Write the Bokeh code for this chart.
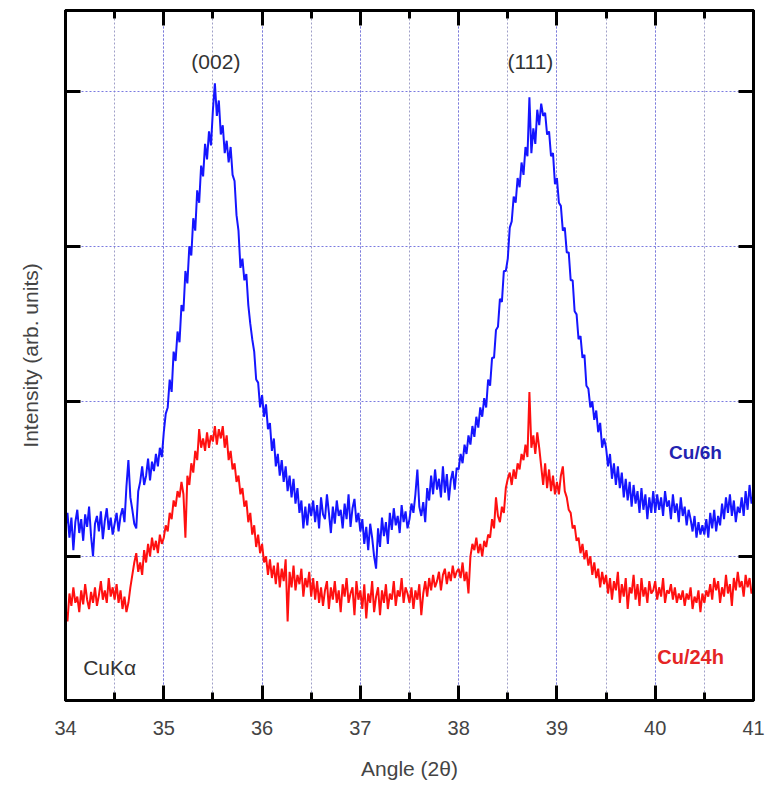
import numpy as np
from bokeh.plotting import figure
from bokeh.models import Range1d, LinearAxis, SingleIntervalTicker, FixedTicker
from bokeh.core.properties import value
from bokeh.embed import file_html
from bokeh.resources import INLINE

# 2-theta grid: 34.00 .. 41.00 step 0.02 (rows of 0.5 deg)
angle_start = 34.0
angle_step = 0.02

cu6h = [
    118, 128, 112, 125, 104, 122, 130, 115, 124, 110, 127, 119, 132, 113, 100, 121, 126, 116, 129, 111, 123, 131, 117, 125, 114,
    121, 128, 116, 126, 131, 122, 145, 162, 138, 130, 121, 118, 142, 148, 158, 146, 152, 163, 149, 161, 155, 166, 158, 170, 164,
    180, 192, 196, 214, 206, 232, 226, 245, 238, 262, 258, 284, 276, 300, 294, 318, 310, 336, 328, 352, 345, 366, 356, 374, 365,
    388, 405, 384, 394, 372, 378, 360, 368, 354, 364, 346, 342, 320, 310, 286, 292, 278, 282, 262, 250, 240, 232, 214, 212, 196,
    204, 190, 198, 182, 186, 168, 176, 158, 166, 152, 162, 148, 158, 142, 152, 138, 150, 134, 144, 128, 136, 118, 132, 120, 134,
    126, 136, 122, 133, 118, 138, 127, 124, 140, 128, 115, 132, 121, 136, 126, 130, 118, 134, 124, 140, 119, 131, 137, 122, 128,
    116, 124, 108, 119, 104, 121, 112, 100, 92, 118, 106, 125, 113, 122, 108, 128, 117, 131, 120, 126, 115, 133, 122, 129, 118,
    124, 134, 128, 140, 156, 132, 126, 135, 122, 144, 136, 152, 140, 156, 143, 150, 138, 158, 141, 153, 136, 149, 155, 143, 157,
    156, 166, 160, 172, 166, 178, 172, 184, 177, 190, 183, 196, 190, 202, 196, 214, 210, 228, 228, 246, 248, 266, 264, 284, 284,
    292, 312, 316, 332, 328, 344, 338, 354, 346, 364, 358, 396, 360, 376, 366, 388, 378, 392, 384, 386, 372, 374, 358, 360, 340,
    344, 328, 326, 310, 312, 296, 296, 278, 278, 258, 256, 240, 242, 228, 230, 210, 208, 196, 200, 188, 194, 180, 186, 170, 176,
    170, 158, 166, 150, 160, 146, 158, 144, 154, 138, 150, 136, 148, 132, 146, 134, 142, 128, 144, 130, 140, 124, 138, 128, 142,
    128, 140, 130, 138, 126, 142, 132, 136, 124, 140, 128, 134, 122, 138, 126, 132, 120, 130, 124, 116, 126, 112, 122, 114, 120,
    114, 124, 112, 128, 118, 130, 116, 126, 120, 134, 124, 138, 128, 140, 126, 136, 122, 132, 128, 138, 126, 142, 130, 146, 134,
    140,
]

cu24h = [
    66, 58, 76, 68, 80, 70, 74, 64, 78, 69, 82, 72, 66, 77, 70, 80, 68, 75, 84, 72, 78, 70, 86, 74, 80,
    72, 82, 70, 78, 66, 74, 64, 70, 80, 88, 96, 102, 90, 96, 88, 104, 96, 108, 100, 112, 104, 110, 102, 114, 108,
    112, 120, 116, 128, 124, 136, 132, 142, 138, 148, 140, 112, 152, 146, 160, 154, 168, 162, 182, 170, 176, 168, 180, 170, 178,
    174, 184, 172, 182, 176, 184, 170, 178, 162, 168, 156, 160, 148, 152, 140, 144, 132, 136, 122, 128, 114, 120, 106, 114, 102,
    108, 96, 100, 88, 98, 86, 94, 82, 96, 80, 92, 84, 98, 58, 90, 80, 94, 78, 88, 82, 92, 74, 86, 80, 90,
    74, 86, 72, 84, 70, 80, 68, 78, 84, 66, 80, 72, 84, 70, 78, 64, 82, 74, 86, 70, 76, 80, 62, 84, 72,
    78, 66, 82, 60, 76, 70, 84, 64, 74, 80, 62, 78, 70, 82, 66, 76, 72, 84, 68, 78, 74, 86, 70, 80, 76,
    70, 80, 66, 78, 72, 82, 62, 76, 84, 74, 86, 78, 88, 80, 84, 90, 78, 88, 92, 82, 90, 84, 94, 86, 90,
    92, 86, 96, 84, 90, 76, 100, 108, 104, 112, 102, 108, 100, 110, 106, 114, 112, 124, 118, 138, 126, 122, 132, 128, 144,
    150, 154, 146, 156, 150, 160, 156, 166, 162, 172, 164, 206, 170, 178, 166, 180, 170, 158, 146, 160, 144, 156, 142, 152, 140,
    148, 140, 152, 158, 142, 138, 130, 128, 118, 120, 110, 112, 102, 108, 98, 104, 94, 100, 88, 96, 86, 92, 80, 90, 82,
    88, 76, 86, 72, 84, 78, 90, 70, 82, 74, 86, 66, 80, 76, 88, 72, 82, 68, 86, 74, 80, 70, 84, 76, 78,
    84, 72, 80, 74, 86, 70, 78, 76, 82, 72, 80, 70, 76, 72, 78, 68, 76, 72, 80, 66, 74, 70, 78, 64, 76,
    70, 78, 74, 82, 72, 86, 78, 84, 70, 80, 74, 88, 76, 82, 68, 86, 78, 90, 80, 84, 74, 88, 80, 86, 76,
    80,
]

x_ticks_major = [34, 35, 36, 37, 38, 39, 40, 41]
y_ticks = [100, 200, 300, 400]

angle = angle_start + angle_step * np.arange(len(cu6h))

FONT = "Liberation Sans"

p = figure(width=773, height=786, output_backend="svg", toolbar_location=None,
           x_range=Range1d(34, 41), y_range=Range1d(7, 452),
           min_border_left=65, min_border_right=20, min_border_top=10, min_border_bottom=86)
p.background_fill_color = "white"
p.border_fill_color = "white"
p.outline_line_color = "black"
p.outline_line_width = 3

p.line(angle, cu6h, line_color="#1515ff", line_width=2.0)
p.line(angle, cu24h, line_color="#ff1010", line_width=2.0)

xt = SingleIntervalTicker(interval=1, num_minor_ticks=2)
yt = FixedTicker(ticks=y_ticks)

p.xaxis.ticker = xt
p.yaxis.ticker = yt

# grids
p.xgrid.ticker = xt
p.xgrid.grid_line_color = "#7a7ae0"
p.xgrid.grid_line_dash = "2 2"
p.xgrid.grid_line_width = 1
p.xgrid.minor_grid_line_color = "#a0a0c8"
p.xgrid.minor_grid_line_dash = "2 2"
p.xgrid.minor_grid_line_width = 1
p.ygrid.ticker = yt
p.ygrid.grid_line_color = "#7a7ae0"
p.ygrid.grid_line_dash = "2 2"
p.ygrid.grid_line_width = 1

def style_axis(ax, ticks=None):
    ax.axis_line_width = 3
    ax.axis_line_color = "black"
    ax.major_tick_in = 15
    ax.major_tick_out = 0
    ax.minor_tick_in = 8
    ax.minor_tick_out = 0
    ax.major_tick_line_width = 3
    ax.minor_tick_line_width = 3
    ax.major_tick_line_color = "black"
    ax.minor_tick_line_color = "black"
    ax.major_label_text_font = FONT
    ax.major_label_text_font_size = "20px"
    ax.major_label_text_color = "#444444"
    if ticks is not None:
        ax.major_label_overrides = {t: "" for t in ticks}
        ax.major_label_standoff = 0

style_axis(p.xaxis[0])
p.xaxis.major_label_standoff = 20
p.xaxis.axis_label = "Angle (2θ)"
p.xaxis.axis_label_text_font = FONT
p.xaxis.axis_label_text_font_size = "21px"
p.xaxis.axis_label_text_font_style = "normal"
p.xaxis.axis_label_text_color = "#444444"
p.xaxis.axis_label_standoff = 19

style_axis(p.yaxis[0], ticks=y_ticks)
p.yaxis.minor_tick_in = 0
p.yaxis.axis_label = "Intensity (arb. units)"
p.yaxis.axis_label_text_font = FONT
p.yaxis.axis_label_text_font_size = "21px"
p.yaxis.axis_label_text_font_style = "normal"
p.yaxis.axis_label_text_color = "#444444"
p.yaxis.axis_label_standoff = 24

top = LinearAxis(ticker=xt)
style_axis(top, ticks=x_ticks_major)
p.add_layout(top, "above")
right = LinearAxis(ticker=yt)
style_axis(right, ticks=y_ticks)
right.minor_tick_in = 0
p.add_layout(right, "right")

# annotations
lbl_x = [35.53, 38.73]
lbl_y = [419, 419]
lbl_t = ["(002)", "(111)"]
p.text(x=lbl_x, y=lbl_y, text=lbl_t, text_font=value(FONT), text_font_size="21px",
       text_color="#333333", text_align="center", text_baseline="middle")
p.text(x=[40.41], y=[167], text=["Cu/6h"], text_font=value(FONT), text_font_size="19px",
       text_font_style="bold", text_color="#2323b0", text_align="center", text_baseline="middle")
p.text(x=[40.36], y=[35], text=["Cu/24h"], text_font=value(FONT), text_font_size="20px",
       text_font_style="bold", text_color="#e52525", text_align="center", text_baseline="middle")
p.text(x=[34.18], y=[28], text=["CuKα"], text_font=value(FONT), text_font_size="21px",
       text_color="#333333", text_align="left", text_baseline="middle")

open("out.html", "w").write(file_html(p, INLINE))
